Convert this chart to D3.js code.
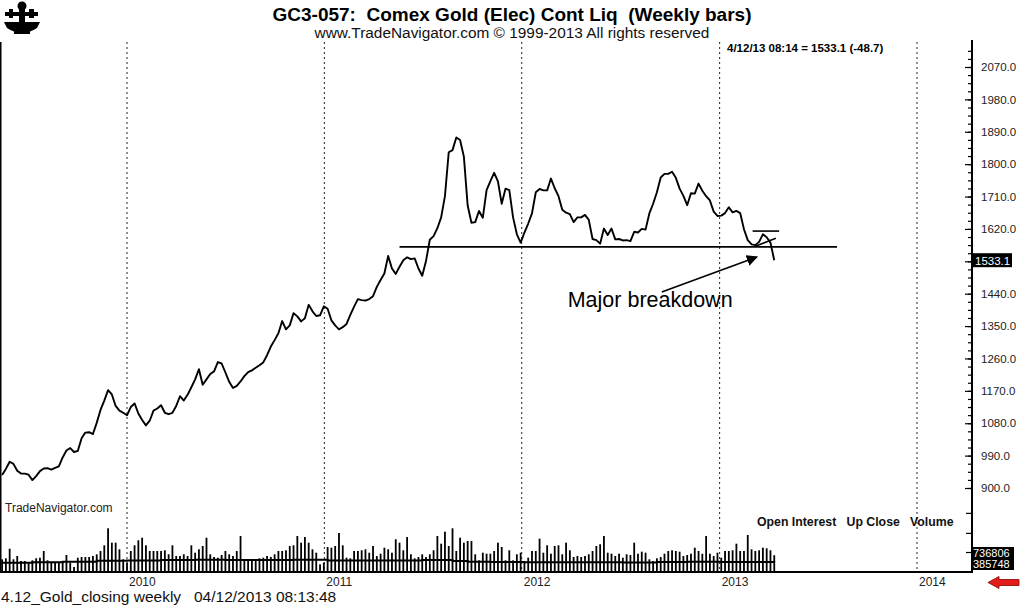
<!DOCTYPE html>
<html><head><meta charset="utf-8">
<script src="https://cdn.jsdelivr.net/npm/d3@7"></script>
<style>
html,body{margin:0;padding:0;background:#fff;}
svg{display:block;font-family:"Liberation Sans",Arial,sans-serif;}
text{white-space:pre;}
</style></head><body>
<svg id="chart" width="1024" height="607"></svg>
<script>
// ---------- data ----------
const startWeek = "2009-05-15"; // first weekly bar (Friday)
const closes = [
936,953,973,967,948,940,940,937,922,933,
947,954,955,951,956,960,985,1004,1011,1000,
1003,1038,1054,1055,1050,1081,1117,1143,1172,1160,
1128,1115,1109,1102,1125,1135,1107,1089,1074,1087,
1115,1121,1130,1109,1105,1109,1128,1155,1143,1159,
1180,1202,1230,1187,1202,1217,1224,1250,1246,1221,
1195,1178,1184,1196,1211,1222,1227,1234,1241,1249,
1269,1293,1311,1330,1364,1341,1352,1386,1377,1363,
1372,1409,1391,1378,1380,1405,1398,1366,1352,1341,
1347,1356,1381,1404,1425,1422,1421,1425,1433,1459,
1478,1496,1545,1510,1495,1515,1533,1541,1536,1538,
1510,1490,1531,1590,1600,1622,1652,1711,1833,1839,
1874,1867,1821,1685,1637,1639,1670,1651,1728,1753,
1776,1752,1690,1732,1728,1652,1605,1582,1610,1635,
1663,1722,1731,1727,1727,1760,1733,1711,1673,1665,
1661,1639,1652,1652,1659,1645,1592,1589,1579,1621,
1603,1621,1591,1592,1588,1589,1586,1612,1610,1620,
1618,1663,1690,1722,1763,1773,1773,1779,1762,1732,
1712,1686,1719,1718,1746,1726,1711,1699,1668,1656,
1657,1664,1680,1666,1670,1664,1619,1589,1577,1575,
1584,1605,1597,1582,1533.1
];
// weekly volume, thousands of contracts
const volumes = [
292,315,536,292,368,253,253,230,269,315,
329,483,269,230,214,230,253,391,214,115,
329,345,345,345,368,407,483,614,1005,674,
674,522,292,214,483,614,729,789,614,483,
483,483,483,499,407,614,368,368,407,368,
614,444,522,598,789,407,345,329,391,483,
407,368,483,828,292,292,269,292,315,329,
368,345,407,483,483,499,598,614,828,674,
805,674,522,444,177,214,575,559,598,897,
614,329,315,483,483,499,522,444,598,368,
421,559,522,444,752,674,
499,805,407,315,345,407,345,407,499,828,
651,927,598,1005,483,789,674,713,713,407,
269,444,421,421,483,674,575,269,499,269,
407,444,
214,329,483,483,766,444,614,421,598,614,
407,674,499,345,368,345,368,407,483,598,
637,828,444,421,368,421,329,407,391,674,
421,468,
444,292,253,315,345,421,483,499,483,467,
368,391,421,559,483,421,828,421,368,444,
329,483,483,499,651,483,483,851,522,483,
499,559,545,499,386
];
// open interest, thousands of contracts
const oiDates = ["2009-05-15","2009-07-10","2009-09-04","2009-11-06","2010-01-01","2010-03-05","2010-05-07","2010-07-02","2010-09-03","2010-11-05","2011-01-07","2011-03-04","2011-05-06","2011-07-01","2011-08-26","2011-09-23","2011-11-04","2012-01-06","2012-03-02","2012-05-04","2012-07-06","2012-09-07","2012-11-02","2013-01-04","2013-03-01","2013-04-12"];
const oiValues = [690,720,760,830,860,880,900,880,890,900,860,850,860,880,820,760,740,720,730,720,700,740,760,750,740,737];
const yearTicks = ["2010","2011","2012","2013","2014"];
const priceTicks = [900,990,1080,1170,1260,1350,1440,1530,1620,1710,1800,1890,1980,2070];
const lastClose = 1533.1, lastChange = -48.7;
const lastOI = "736806", lastVolume = "385748";
const supportLevel = 1570, supportFrom = "2011-05-20", supportTo = "2013-08-06";
const capLevel = 1614, capFrom = "2013-03-03", capTo = "2013-04-21";
const trendFrom = ["2013-03-08", 1572], trendTo = ["2013-04-15", 1594];
const arrowFrom = ["2012-09-16", 1445], arrowTo = ["2013-03-11", 1542];
const noteAnchor = ["2012-03-26", 1403];
const noteText = "Major breakdown";

// ---------- setup ----------
const parse = d3.timeParse("%Y-%m-%d");
const t0 = parse(startWeek);
const dates = closes.map((_, i) => d3.timeDay.offset(t0, 7 * i));
const svg = d3.select("#chart");
svg.append("rect").attr("width",1024).attr("height",607).attr("fill","#fff");

const x = d3.scaleTime().domain([parse("2010-01-01"), parse("2014-01-01")]).range([127, 917]);
const y = d3.scaleLinear().domain([900, 2070]).range([488, 67]);
const vy = d3.scaleLinear().domain([0, 1150]).range([572, 522]);
const oy = d3.scaleLinear().domain([0, 2000]).range([572, 545]);
const axisX = 972, plotTop = 42, base = 572;

// year grid lines
yearTicks.forEach(yr => {
  const xx = x(parse(yr + "-01-01"));
  svg.append("line").attr("x1",xx).attr("x2",xx).attr("y1",plotTop).attr("y2",base)
    .attr("stroke","#222").attr("stroke-width",1).attr("stroke-dasharray","2,3");
  svg.append("text").attr("x",xx+2).attr("y",586).attr("font-size",12).attr("fill","#222").text(yr);
});

// volume bars
svg.append("g").selectAll("rect").data(volumes).join("rect")
  .attr("x",(d,i)=>x(dates[i])-0.9).attr("width",1.8)
  .attr("y",d=>vy(d)).attr("height",d=>base-vy(d)).attr("fill","#000");

// open interest line
svg.append("path").datum(oiDates.map((d,i)=>[parse(d),oiValues[i]]))
  .attr("fill","none").attr("stroke","#000").attr("stroke-width",2)
  .attr("d", d3.line().x(d=>x(d[0])).y(d=>oy(d[1])).curve(d3.curveStepAfter));

// price line
svg.append("path").datum(closes)
  .attr("fill","none").attr("stroke","#000").attr("stroke-width",1.9).attr("stroke-linejoin","round")
  .attr("d", d3.line().x((d,i)=>x(dates[i])).y(d=>y(d)));

// annotations
svg.append("line").attr("x1",x(parse(supportFrom))).attr("x2",x(parse(supportTo)))
  .attr("y1",y(supportLevel)).attr("y2",y(supportLevel)).attr("stroke","#000").attr("stroke-width",1.6);
svg.append("line").attr("x1",x(parse(capFrom))).attr("x2",x(parse(capTo)))
  .attr("y1",y(capLevel)).attr("y2",y(capLevel)).attr("stroke","#000").attr("stroke-width",1.6);
svg.append("line").attr("x1",x(parse(trendFrom[0]))).attr("x2",x(parse(trendTo[0])))
  .attr("y1",y(trendFrom[1])).attr("y2",y(trendTo[1])).attr("stroke","#000").attr("stroke-width",1.6);
const defs = svg.append("defs");
defs.append("marker").attr("id","ah").attr("viewBox","0 0 10 10").attr("refX",9).attr("refY",5)
  .attr("markerWidth",7).attr("markerHeight",7).attr("orient","auto")
  .append("path").attr("d","M0,0 L10,5 L0,10 z").attr("fill","#000");
svg.append("line").attr("x1",x(parse(arrowFrom[0]))).attr("y1",y(arrowFrom[1]))
  .attr("x2",x(parse(arrowTo[0]))).attr("y2",y(arrowTo[1]))
  .attr("stroke","#000").attr("stroke-width",1.6).attr("marker-end","url(#ah)");
svg.append("text").attr("x",x(parse(noteAnchor[0]))).attr("y",y(noteAnchor[1]))
  .attr("font-size",21.5).attr("fill","#000").text(noteText);

// frame
svg.append("line").attr("x1",0.75).attr("x2",0.75).attr("y1",plotTop).attr("y2",base).attr("stroke","#000").attr("stroke-width",1.5);
svg.append("line").attr("x1",0).attr("x2",axisX+1).attr("y1",base).attr("y2",base).attr("stroke","#000").attr("stroke-width",2);

// right price axis
const gMinor = svg.append("g").attr("transform",`translate(${axisX},0)`)
  .call(d3.axisRight(y).tickValues(d3.range(900, 2130, 22.5)).tickSize(-4).tickFormat(""));
const gMajor = svg.append("g").attr("transform",`translate(${axisX},0)`)
  .call(d3.axisRight(y).tickValues(priceTicks).tickSize(-7).tickPadding(9).tickFormat(d3.format(".1f")));
const gVol = svg.append("g").attr("transform",`translate(${axisX},0)`)
  .call(d3.axisRight(vy).tickValues([460, 900, 1360]).tickSize(-6).tickFormat(""));
[gMinor,gMajor,gVol].forEach(g=>{
  g.select(".domain").remove();
  g.selectAll("line").attr("stroke","#000").attr("stroke-width",1.2);
});
gMajor.selectAll("text").attr("font-size",11.5).attr("fill","#222").attr("font-family","'Liberation Sans',Arial,sans-serif");
// the tick label hidden under the last-price box
gMajor.selectAll(".tick").filter(d => Math.abs(y(d) - y(lastClose)) < 10).select("text").remove();
svg.append("line").attr("x1",axisX).attr("x2",axisX).attr("y1",plotTop-2).attr("y2",base+1).attr("stroke","#000").attr("stroke-width",2);

// last price box
svg.append("rect").attr("x",axisX).attr("y",y(lastClose)-7).attr("width",40).attr("height",14).attr("fill","#000");
svg.append("text").attr("x",axisX+3).attr("y",y(lastClose)+4.5).attr("font-size",11.5).attr("fill","#fff").text(d3.format(".1f")(lastClose));

// last OI / volume boxes
svg.append("rect").attr("x",axisX).attr("y",547).attr("width",42).attr("height",23).attr("fill","#000");
svg.append("text").attr("x",axisX+1).attr("y",557).attr("font-size",11).attr("fill","#fff").text(lastOI);
svg.append("text").attr("x",axisX+1).attr("y",568).attr("font-size",11).attr("fill","#fff").text(lastVolume);

// red arrow
svg.append("path").attr("d","M988,582.5 L999,576.5 L999,579.5 L1019,579.5 L1019,585.5 L999,585.5 L999,588.5 Z")
  .attr("fill","#e31b1b").attr("stroke","#8a0000").attr("stroke-width",0.8);

// titles and texts
svg.append("text").attr("x",512).attr("y",21).attr("text-anchor","middle").attr("font-size",19).attr("font-weight","bold")
  .attr("fill","#000").text("GC3-057:  Comex Gold (Elec) Cont Liq  (Weekly bars)");
svg.append("text").attr("x",512).attr("y",38).attr("text-anchor","middle").attr("font-size",15.4)
  .attr("fill","#111").text("www.TradeNavigator.com \u00A9 1999-2013 All rights reserved");
svg.append("text").attr("x",727).attr("y",52).attr("font-size",11.5).attr("font-weight","bold")
  .attr("fill","#000").text(`4/12/13 08:14 = ${lastClose} (${lastChange})`);
svg.append("text").attr("x",5).attr("y",512).attr("font-size",12).attr("fill","#222").text("TradeNavigator.com");
svg.append("text").attr("x",757).attr("y",526).attr("font-size",12.3).attr("font-weight","bold")
  .attr("fill","#111").text("Open Interest   Up Close   Volume");
svg.append("text").attr("x",1).attr("y",602).attr("font-size",15.5).attr("fill","#111")
  .text("4.12_Gold_closing weekly   04/12/2013 08:13:48");

// logo (sextant icon)
const logo = svg.append("g").attr("fill","#000");
logo.append("circle").attr("cx",22).attr("cy",6).attr("r",4.5);
logo.append("rect").attr("x",19).attr("y",8).attr("width",6).attr("height",16);
logo.append("rect").attr("x",5).attr("y",12).attr("width",33).attr("height",4);
logo.append("rect").attr("x",9).attr("y",9).attr("width",4).attr("height",9);
logo.append("rect").attr("x",29).attr("y",9).attr("width",5).attr("height",9);
logo.append("path").attr("d","M4,22 L40,22 L37,28 Q22,38 7,28 Z");
logo.append("rect").attr("x",14).attr("y",30).attr("width",16).attr("height",4);
</script>
</body></html>
